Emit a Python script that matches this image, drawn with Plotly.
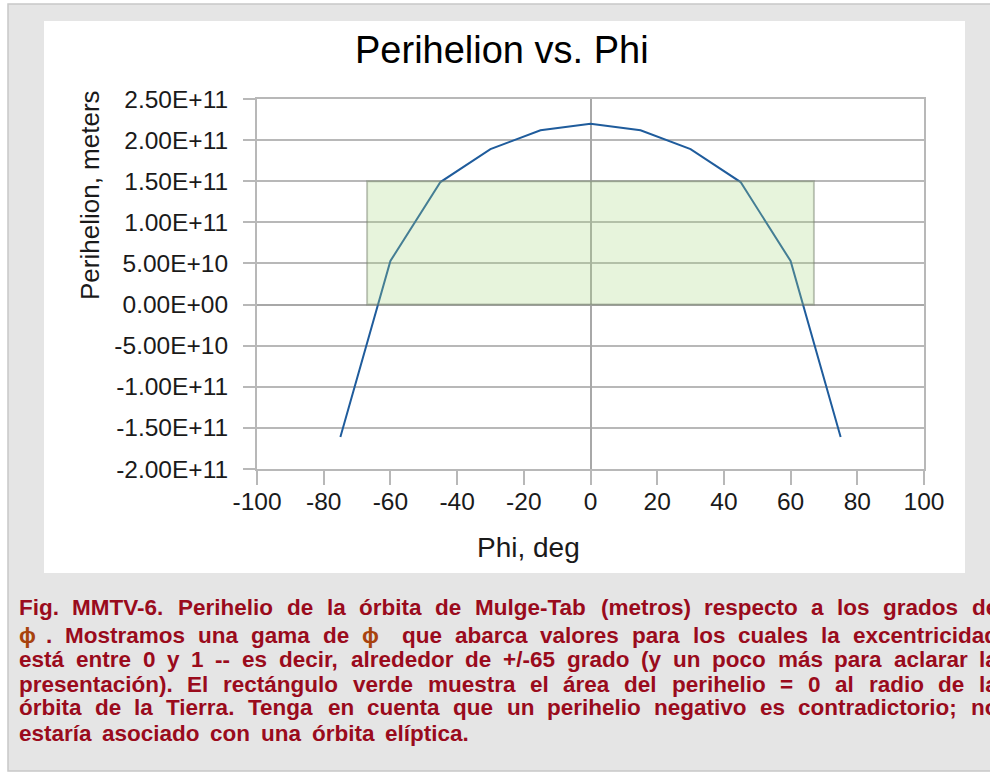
import re
import plotly.graph_objects as go

# ---- data ---------------------------------------------------------------
phi_deg = [-75, -60, -45, -30, -15, 0, 15, 30, 45, 60, 75]
perihelion_m = [-1.61e11, 5.3e10, 1.49e11, 1.89e11, 2.12e11, 2.20e11,
                2.12e11, 1.89e11, 1.49e11, 5.3e10, -1.61e11]

# green band: perihelion from 0 up to the radius of Earth's orbit
band_phi = [-67, 67]
band_perihelion = [0.0, 1.5e11]

x_ticks = [-100, -80, -60, -40, -20, 0, 20, 40, 60, 80, 100]
y_ticks = [2.5e11, 2.0e11, 1.5e11, 1.0e11, 5.0e10, 0.0,
           -5.0e10, -1.0e11, -1.5e11, -2.0e11]
y_tick_labels = ["2.50E+11", "2.00E+11", "1.50E+11", "1.00E+11", "5.00E+10",
                 "0.00E+00", "-5.00E+10", "-1.00E+11", "-1.50E+11", "-2.00E+11"]

title_text = "Perihelion vs. Phi"
x_title = "Phi, deg"
y_title = "Perihelion, meters"

caption_lines = [
    "Fig. MMTV-6. Perihelio de la órbita de Mulge-Tab (metros) respecto a los grados de",
    "ϕ . Mostramos una gama de ϕ  que abarca valores para los cuales la excentricidad",
    "está entre 0 y 1 -- es decir, alrededor de +/-65 grado (y un poco más para aclarar la",
    "presentación). El rectángulo verde muestra el área del perihelio = 0 al radio de la",
    "órbita de la Tierra. Tenga en cuenta que un perihelio negativo es contradictorio; no",
    "estaría asociado con una órbita elíptica.",
]

# ---- page geometry (pixels) ---------------------------------------------
W, H = 990, 774
PL, PR, PT, PB = 257, 924, 99, 469   # plot area edges


def px(x):
    return (x - PL) / (PR - PL)


def py(y):
    return (PB - y) / (PB - PT)


FONT = "Liberation Sans, Arial, Helvetica, sans-serif"
GRID = "#b8b8b8"

fig = go.Figure()

fig.add_trace(go.Scatter(
    x=phi_deg, y=perihelion_m, mode="lines",
    line=dict(color="#1f5c9c", width=2),
    showlegend=False, hoverinfo="skip",
))

shapes = [
    # grey frame of the figure block
    dict(type="rect", xref="paper", yref="paper", layer="below",
         x0=px(8), x1=px(1005), y0=py(4), y1=py(771),
         fillcolor="#e5e5e5", line=dict(color="#c8c8c8", width=1.5)),
    # white chart panel
    dict(type="rect", xref="paper", yref="paper", layer="below",
         x0=px(44), x1=px(965), y0=py(21), y1=py(573),
         fillcolor="#ffffff", line=dict(width=0)),
    # translucent green band over the curve
    dict(type="rect", xref="x", yref="y", layer="above",
         x0=band_phi[0], x1=band_phi[1],
         y0=band_perihelion[0], y1=band_perihelion[1],
         fillcolor="rgba(168,214,128,0.28)",
         line=dict(color="rgba(120,130,110,0.45)", width=2)),
]

annotations = [
    dict(text=title_text, x=px(502), y=py(50), xref="paper", yref="paper",
         showarrow=False, xanchor="center", yanchor="middle",
         font=dict(family=FONT, size=38, color="#000000")),
    dict(text=x_title, x=px(528), y=py(547), xref="paper", yref="paper",
         showarrow=False, xanchor="center", yanchor="middle",
         font=dict(family=FONT, size=28, color="#1a1a1a")),
    dict(text=y_title, x=px(90), y=py(195), xref="paper", yref="paper",
         showarrow=False, xanchor="center", yanchor="middle", textangle=-90,
         font=dict(family=FONT, size=26, color="#1a1a1a")),
]

# ---- justified caption -------------------------------------------------
# Arial/Helvetica Bold advance widths (1/1000 em) for laying out words
_W = {" ": 278, "(": 333, ")": 333, "+": 584, ",": 278, "-": 333, ".": 278,
      "/": 278, ";": 333, "=": 584, "ϕ": 600}
for c in "0123456789":
    _W[c] = 556
for c, w in zip("ABCDEFGHIJKLMNOPQRSTUVWXYZ",
                [722, 722, 722, 722, 667, 611, 778, 722, 278, 556, 722, 611, 833,
                 722, 778, 667, 778, 722, 667, 611, 722, 667, 944, 667, 667, 611]):
    _W[c] = w
for c, w in zip("abcdefghijklmnopqrstuvwxyz",
                [556, 611, 556, 611, 556, 333, 611, 611, 278, 278, 556, 278, 889,
                 611, 611, 611, 611, 389, 556, 333, 611, 556, 778, 556, 556, 500]):
    _W[c] = w
_W.update({"á": 556, "é": 556, "í": 278, "ó": 611, "ú": 611, "ñ": 611})

CAP_SIZE = 22.5
CAP_LEFT, CAP_RIGHT = 18, 997
CAP_Y = [607, 635, 660, 684, 708, 733]
CAP_RED = "#9a0b1c"
PHI_COLOR = "#a8430e"


def text_w(s):
    return sum(_W.get(c, 556) for c in s) / 1000 * CAP_SIZE


def add_word(word, x, y):
    color = PHI_COLOR if word == "ϕ" else CAP_RED
    annotations.append(dict(
        text="<b>" + word + "</b>", x=px(x), y=py(y), xref="paper", yref="paper",
        showarrow=False, xanchor="left", yanchor="middle", borderpad=0,
        font=dict(family=FONT, size=CAP_SIZE, color=color)))


for i, line in enumerate(caption_lines):
    y = CAP_Y[i]
    parts = re.split(r"( +)", line)
    words = parts[0::2]
    gaps = [len(g) for g in parts[1::2]]
    last = i == len(caption_lines) - 1
    if last:
        gap_px = [text_w(" ") * g * 1.7 for g in gaps]
    else:
        free = (CAP_RIGHT - CAP_LEFT) - sum(text_w(w) for w in words)
        gap_px = [free * g / sum(gaps) for g in gaps]
    x = CAP_LEFT
    for j, wd in enumerate(words):
        add_word(wd, x, y)
        x += text_w(wd)
        if j < len(gap_px):
            x += gap_px[j]

axis_font = dict(family=FONT, size=24.5, color="#1a1a1a")

fig.update_layout(
    width=W, height=H, autosize=False,
    margin=dict(l=PL, r=W - PR, t=PT, b=H - PB, pad=0),
    paper_bgcolor="#ffffff", plot_bgcolor="#ffffff",
    shapes=shapes, annotations=annotations, showlegend=False,
    xaxis=dict(
        range=[-100, 100], tickvals=x_ticks, ticktext=[str(v) for v in x_ticks],
        showgrid=False, zeroline=True, zerolinecolor="#a8a8a8", zerolinewidth=2,
        showline=True, linecolor=GRID, linewidth=2, mirror=True,
        ticks="outside", ticklen=14, tickwidth=2, tickcolor=GRID,
        tickfont=axis_font, ticklabelstandoff=-4, fixedrange=True,
    ),
    yaxis=dict(
        range=[-2.0e11, 2.5e11], tickvals=y_ticks, ticktext=y_tick_labels,
        showgrid=True, gridcolor=GRID, gridwidth=2,
        zeroline=True, zerolinecolor="#a8a8a8", zerolinewidth=2,
        showline=True, linecolor=GRID, linewidth=2, mirror=True,
        ticks="outside", ticklen=12, tickwidth=2, tickcolor=GRID,
        tickfont=axis_font, ticklabelstandoff=10, fixedrange=True,
    ),
)

fig.write_html("out.html")
